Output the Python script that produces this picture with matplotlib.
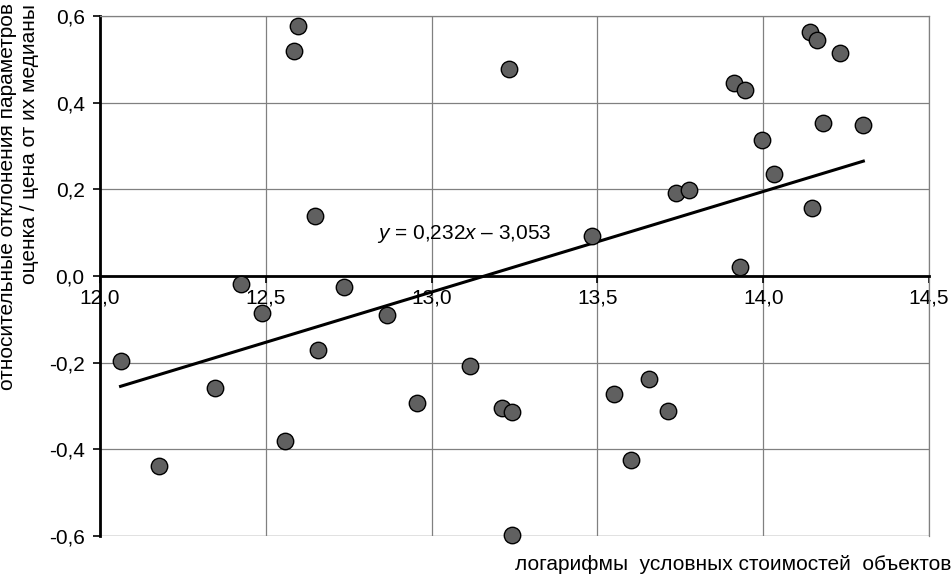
""" scatter of relative deviations vs log cost """

import matplotlib
matplotlib.use("Agg")
from matplotlib import pyplot as plt
from matplotlib.ticker import FuncFormatter

plt.rcParams['font.family'] = ['Liberation Sans', 'DejaVu Sans']
plt.rcParams['mathtext.fontset'] = 'custom'
plt.rcParams['mathtext.it'] = 'Liberation Sans:italic'
plt.rcParams['mathtext.rm'] = 'Liberation Sans'

# log of conditional object costs
log_cost = [
    12.596, 12.584, 12.649, 12.426, 12.736,
    13.234, 14.142, 14.163, 14.232, 13.912, 13.944, 14.179, 14.302,
    13.995, 14.034, 13.737, 13.776, 14.147, 13.485, 13.930,
    12.488, 12.864, 12.657, 12.062, 13.115, 12.346, 12.957, 12.558, 12.178,
    13.211, 13.243, 13.549, 13.656, 13.713, 13.601, 13.242,
]
# relative deviation of estimate / price from medians
deviation = [
    0.577, 0.520, 0.139, -0.019, -0.025,
    0.478, 0.564, 0.544, 0.515, 0.445, 0.430, 0.353, 0.348,
    0.314, 0.236, 0.191, 0.199, 0.158, 0.092, 0.020,
    -0.086, -0.089, -0.170, -0.195, -0.208, -0.258, -0.292, -0.380, -0.438,
    -0.305, -0.313, -0.272, -0.238, -0.312, -0.424, -0.598,
]

slope, intercept = 0.232, -3.053
x_ticks = [12.0, 12.5, 13.0, 13.5, 14.0, 14.5]
y_ticks = [-0.6, -0.4, -0.2, 0.0, 0.2, 0.4, 0.6]


def comma(val, pos):
    """ decimal comma """
    return "{:.1f}".format(val).replace(".", ",")


fig = plt.figure(figsize=(9.53, 5.78), dpi=100)
ax = fig.add_axes([100 / 953, 42 / 578, 829 / 953, 520 / 578])

ax.set_xlim(12.0, 14.5)
ax.set_ylim(-0.6, 0.6)
ax.set_xticks(x_ticks)
ax.set_yticks(y_ticks)
ax.xaxis.set_major_formatter(FuncFormatter(comma))
ax.yaxis.set_major_formatter(FuncFormatter(comma))

ax.grid(True, color='#808080', linewidth=0.9)
ax.set_axisbelow(True)

for side in ('top', 'right'):
    ax.spines[side].set_color('#808080')
    ax.spines[side].set_linewidth(0.9)
ax.spines['bottom'].set_position(('data', 0))
ax.spines['bottom'].set_linewidth(2.0)
ax.spines['left'].set_linewidth(2.0)
ax.axhline(-0.6, color='#808080', linewidth=0.9, zorder=0.5)

ax.tick_params(axis='both', labelsize=15, length=5, width=1.2, direction='out')
ax.tick_params(axis='x', pad=4)
ax.tick_params(axis='y', pad=6)

fit_x = [min(log_cost), max(log_cost)]
fit_y = [slope * v + intercept for v in fit_x]
ax.plot(fit_x, fit_y, color='black', linewidth=2.2, zorder=3)

ax.scatter(log_cost, deviation, s=140, facecolor='#606060',
           edgecolor='black', linewidth=1.0, zorder=4, clip_on=False)

ax.text(12.834, 0.098, r"$\mathit{y}$ = 0,232$\mathit{x}$ – 3,053",
        fontsize=15, ha='left', va='center', zorder=5)

fig.text(951 / 953, 13 / 578, "логарифмы  условных стоимостей  объектов",
         fontsize=15, ha='right', va='center')
fig.text(8 / 953, 1 - 390 / 578, "относительные отклонения параметров",
         fontsize=15, rotation=90, ha='center', va='bottom')
fig.text(30 / 953, 1 - 284 / 578, "оценка / цена от их медианы",
         fontsize=15, rotation=90, ha='center', va='bottom')

fig.savefig("out.png", dpi=100)
